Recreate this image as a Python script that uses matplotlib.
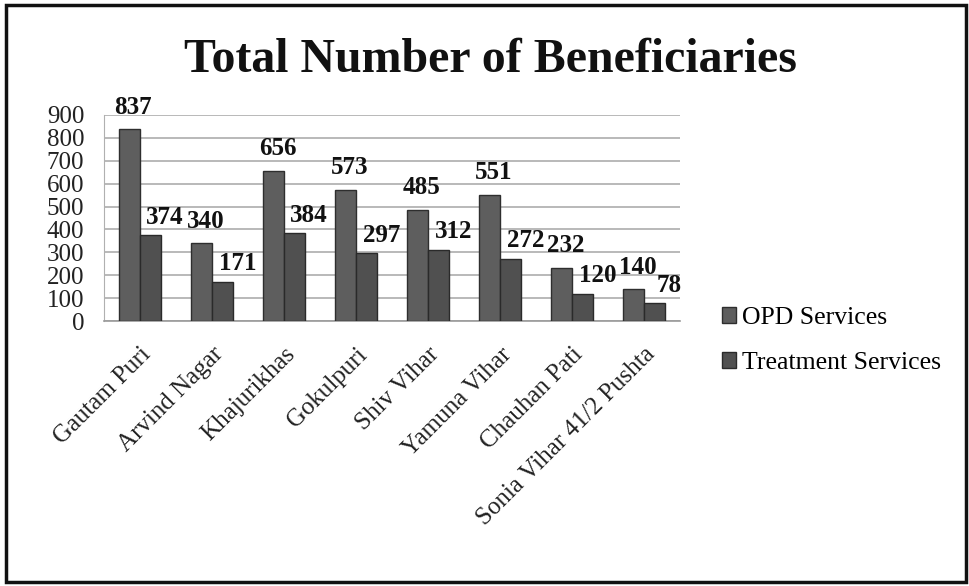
import matplotlib
matplotlib.use("Agg")
import matplotlib.pyplot as plt
from matplotlib.patches import Rectangle
import numpy as np

areas = ["Gautam Puri", "Arvind Nagar", "Khajurikhas", "Gokulpuri",
         "Shiv Vihar", "Yamuna Vihar", "Chauhan Pati", "Sonia Vihar 41/2 Pushta"]
opd_services = [837, 340, 656, 573, 485, 551, 232, 140]
treatment_services = [374, 171, 384, 297, 312, 272, 120, 78]
y_ticks = [0, 100, 200, 300, 400, 500, 600, 700, 800, 900]

plt.rcParams["font.family"] = ["Liberation Serif", "DejaVu Serif"]

fig = plt.figure(figsize=(9.7, 5.86), dpi=100)
ax = fig.add_axes([0.107, 0.452, 0.594, 0.352])

x = np.arange(len(areas))
w = 0.29
bars_opd = ax.bar(x - w / 2, opd_services, w, color="#5e5e5e", edgecolor="#2e2e2e",
                  linewidth=1.0, label="OPD Services", zorder=3)
bars_trt = ax.bar(x + w / 2, treatment_services, w, color="#505050", edgecolor="#2a2a2a",
                  linewidth=1.0, label="Treatment Services", zorder=3)

# value labels, Excel-ish placement (a bit right of the bar, above the top)
for bars, dx, dy in ((bars_opd, 4, 22), (bars_trt, 15, 18)):
    for b in bars:
        h = b.get_height()
        ax.annotate(f"{h:.0f}", (b.get_x() + b.get_width() / 2, h),
                    xytext=(dx, dy), textcoords="offset pixels",
                    ha="center", va="center", fontsize=18, fontweight="bold",
                    color="#111111", annotation_clip=False)

ax.set_xlim(-0.5, len(areas) - 0.5)
ax.set_ylim(0, 900)
ax.set_yticks(y_ticks)
ax.tick_params(axis="y", length=0, labelsize=18, pad=14, labelcolor="#222222")
ax.set_xticks(x)
ax.set_xticklabels(areas, rotation=45, ha="right", rotation_mode="anchor",
                   fontsize=18, color="#222222")
ax.tick_params(axis="x", length=0, pad=16)
ax.grid(True, axis="y", color="#a5a5a5", linewidth=1.1, zorder=0)
for s in ("top", "right"):
    ax.spines[s].set_visible(False)
ax.spines["left"].set_color("#b0b0b0")
ax.spines["bottom"].set_color("#9a9a9a")
ax.spines["bottom"].set_linewidth(1.2)

fig.text(0.506, 0.897, "Total Number of Beneficiaries", ha="center", va="center",
         fontsize=34.5, fontweight="bold", color="#111111")

ax.legend(loc="center left", bbox_to_anchor=(1.032, -0.095), frameon=False,
          fontsize=18.5, handlelength=0.55, handleheight=0.55, handletextpad=0.25,
          labelspacing=0.9)

fig.patches.append(Rectangle((0.006, 0.006), 0.99, 0.985, transform=fig.transFigure,
                             fill=False, edgecolor="#111111", linewidth=2.5))

fig.savefig("out.png", dpi=100, facecolor="white")
plt.close(fig)
